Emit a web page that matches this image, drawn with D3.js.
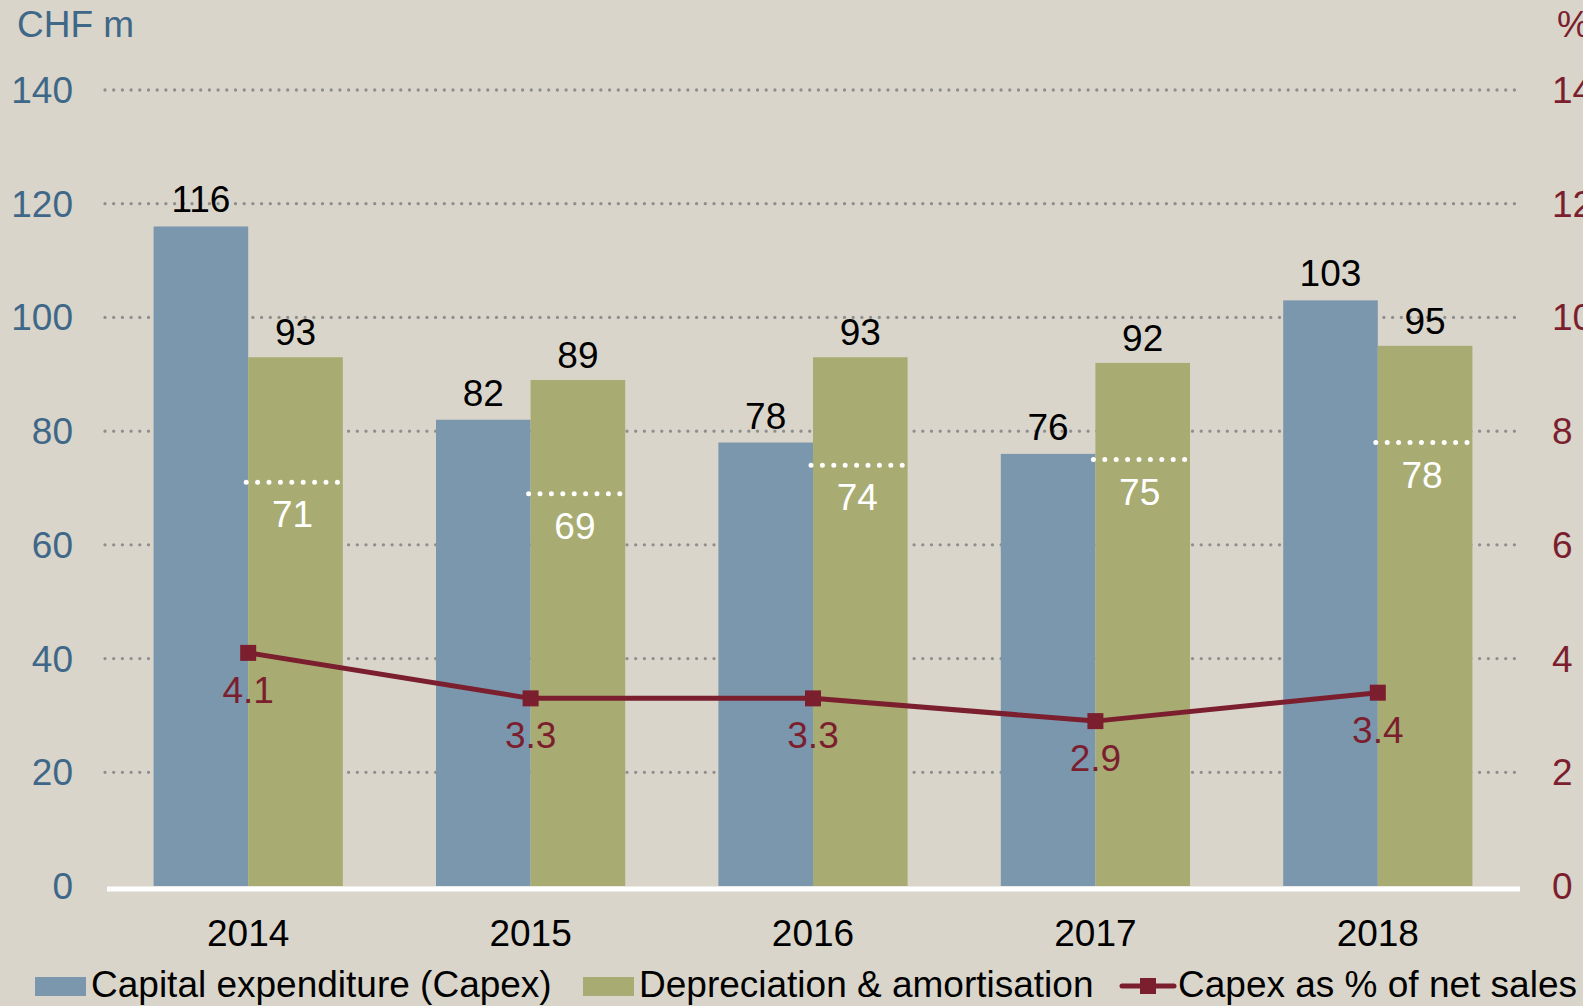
<!DOCTYPE html>
<html>
<head>
<meta charset="utf-8">
<script src="https://cdn.jsdelivr.net/npm/d3@7"></script>
<style>
  body { margin: 0; background: #d9d5ca; }
  svg { display: block; font-family: "Liberation Sans", Arial, sans-serif; }
</style>
</head>
<body>
<div id="chart"></div>
<script>
// ---- data ----
const years = ["2014", "2015", "2016", "2017", "2018"];
const capex = [116, 82, 78, 76, 103];          // CHF m
const depAmort = [93, 89, 93, 92, 95];         // CHF m
const depMarker = [71, 69, 74, 75, 78];        // white dotted level inside D&A bars
const capexPct = [4.1, 3.3, 3.3, 2.9, 3.4];    // % of net sales
const leftTicks = [0, 20, 40, 60, 80, 100, 120, 140];
const rightTicks = [0, 2, 4, 6, 8, 10, 12, 14];
const seriesNames = ["Capital expenditure (Capex)", "Depreciation & amortisation", "Capex as % of net sales"];

// ---- layout ----
const width = 1583, height = 1006;
const plot = { left: 107, right: 1519, top: 90, bottom: 886 };

const colBlue = "#7b97ae";
const colGreen = "#a8ac72";
const colLine = "#7b1f2f";
const colLeftAxis = "#3e6788";
const fontSize = 37;

const svg = d3.select("#chart").append("svg")
  .attr("width", width)
  .attr("height", height);

svg.append("rect").attr("width", width).attr("height", height).attr("fill", "#d9d5ca");

const x0 = d3.scaleBand()
  .domain(years)
  .range([plot.left, plot.right])
  .paddingInner(0.33)
  .paddingOuter(0.165);

const x1 = d3.scaleBand()
  .domain(["capex", "dep"])
  .range([0, x0.bandwidth()]);

const yL = d3.scaleLinear().domain([0, 140]).range([plot.bottom, plot.top]);
const yR = d3.scaleLinear().domain([0, 14]).range([plot.bottom, plot.top]);

// gridlines (dotted)
svg.append("g").selectAll("line")
  .data(leftTicks.filter(d => d > 0))
  .join("line")
  .attr("x1", plot.left - 2)
  .attr("x2", 1517)
  .attr("y1", d => yL(d))
  .attr("y2", d => yL(d))
  .attr("stroke", "#8e8e8e")
  .attr("stroke-width", 3.3)
  .attr("stroke-linecap", "round")
  .attr("stroke-dasharray", "0 8.7");

// left axis labels
svg.append("g").selectAll("text")
  .data(leftTicks)
  .join("text")
  .attr("x", 73)
  .attr("y", d => yL(d) + 13)
  .attr("text-anchor", "end")
  .attr("font-size", fontSize)
  .attr("fill", colLeftAxis)
  .text(d => d);

// right axis labels
svg.append("g").selectAll("text")
  .data(rightTicks)
  .join("text")
  .attr("x", 1552)
  .attr("y", d => yR(d) + 13)
  .attr("font-size", fontSize)
  .attr("fill", colLine)
  .text(d => d);

svg.append("text").attr("x", 17).attr("y", 37).attr("font-size", fontSize)
  .attr("fill", colLeftAxis).text("CHF m");
svg.append("text").attr("x", 1557).attr("y", 37).attr("font-size", fontSize)
  .attr("fill", colLine).text("%");

// bars
const rows = years.map((y, i) => ({ year: y, capex: capex[i], dep: depAmort[i], mark: depMarker[i], pct: capexPct[i] }));

const groups = svg.append("g").selectAll("g")
  .data(rows)
  .join("g")
  .attr("transform", d => `translate(${x0(d.year)},0)`);

groups.append("rect")
  .attr("x", x1("capex"))
  .attr("y", d => yL(d.capex))
  .attr("width", x1.bandwidth())
  .attr("height", d => yL(0) - yL(d.capex))
  .attr("fill", colBlue);

groups.append("rect")
  .attr("x", x1("dep"))
  .attr("y", d => yL(d.dep))
  .attr("width", x1.bandwidth())
  .attr("height", d => yL(0) - yL(d.dep))
  .attr("fill", colGreen);

// value labels above bars
groups.append("text")
  .attr("x", x1("capex") + x1.bandwidth() / 2)
  .attr("y", d => yL(d.capex) - 14)
  .attr("text-anchor", "middle")
  .attr("font-size", fontSize)
  .attr("fill", "#000")
  .text(d => d.capex);

groups.append("text")
  .attr("x", x1("dep") + x1.bandwidth() / 2)
  .attr("y", d => yL(d.dep) - 12)
  .attr("text-anchor", "middle")
  .attr("font-size", fontSize)
  .attr("fill", "#000")
  .text(d => d.dep);

// white dotted level inside D&A bars
groups.append("line")
  .attr("x1", x1("dep") - 2)
  .attr("x2", x1("dep") + x1.bandwidth() - 3)
  .attr("y1", d => yL(d.mark))
  .attr("y2", d => yL(d.mark))
  .attr("stroke", "#fff")
  .attr("stroke-width", 5)
  .attr("stroke-linecap", "round")
  .attr("stroke-dasharray", "0 11.4");

groups.append("text")
  .attr("x", x1("dep") + x1.bandwidth() / 2 - 3)
  .attr("y", d => yL(d.mark) + 45)
  .attr("text-anchor", "middle")
  .attr("font-size", fontSize)
  .attr("fill", "#fff")
  .text(d => d.mark);

// baseline
svg.append("line")
  .attr("x1", plot.left).attr("x2", 1520)
  .attr("y1", plot.bottom + 3).attr("y2", plot.bottom + 3)
  .attr("stroke", "#fff").attr("stroke-width", 5);

// x axis labels
svg.append("g").selectAll("text")
  .data(years)
  .join("text")
  .attr("x", d => x0(d) + x0.bandwidth() / 2)
  .attr("y", 946)
  .attr("text-anchor", "middle")
  .attr("font-size", fontSize)
  .attr("fill", "#000")
  .text(d => d);

// capex % line
const cx = d => x0(d.year) + x0.bandwidth() / 2;
const line = d3.line().x(cx).y(d => yR(d.pct));

svg.append("path")
  .datum(rows)
  .attr("d", line)
  .attr("fill", "none")
  .attr("stroke", colLine)
  .attr("stroke-width", 5);

svg.append("g").selectAll("rect")
  .data(rows)
  .join("rect")
  .attr("x", d => cx(d) - 8)
  .attr("y", d => yR(d.pct) - 8)
  .attr("width", 16)
  .attr("height", 16)
  .attr("fill", colLine);

svg.append("g").selectAll("text")
  .data(rows)
  .join("text")
  .attr("x", d => cx(d))
  .attr("y", d => yR(d.pct) + 50)
  .attr("text-anchor", "middle")
  .attr("font-size", fontSize)
  .attr("fill", colLine)
  .text(d => d.pct.toFixed(1));

// legend
const legend = svg.append("g");
const legY = 997;
legend.append("rect").attr("x", 35).attr("y", 977).attr("width", 51).attr("height", 19).attr("fill", colBlue);
legend.append("text").attr("x", 91).attr("y", legY).attr("font-size", fontSize).attr("fill", "#000").text(seriesNames[0]);
legend.append("rect").attr("x", 583).attr("y", 977).attr("width", 51).attr("height", 19).attr("fill", colGreen);
legend.append("text").attr("x", 639).attr("y", legY).attr("font-size", fontSize).attr("fill", "#000").text(seriesNames[1]);
legend.append("line").attr("x1", 1122).attr("x2", 1174).attr("y1", 986).attr("y2", 986)
  .attr("stroke", colLine).attr("stroke-width", 5).attr("stroke-linecap", "round");
legend.append("rect").attr("x", 1140).attr("y", 978).attr("width", 16).attr("height", 16).attr("fill", colLine);
legend.append("text").attr("x", 1178).attr("y", legY).attr("font-size", fontSize).attr("fill", "#000").text(seriesNames[2]);
</script>
</body>
</html>
